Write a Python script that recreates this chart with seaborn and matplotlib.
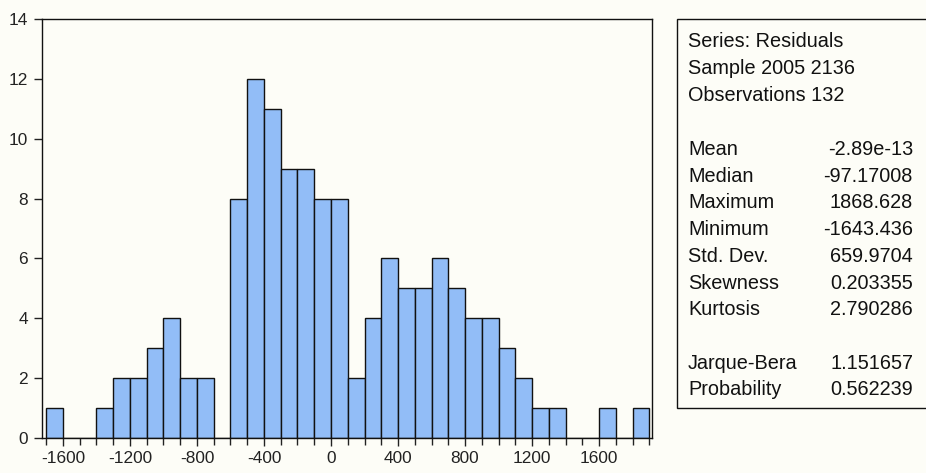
import numpy as np
import pandas as pd
import matplotlib
matplotlib.use("Agg")
import matplotlib.pyplot as plt
import seaborn as sns
from matplotlib.patches import Rectangle

# Data: histogram of residuals (bin width 100)
bin_edges = list(range(-1700, 2000, 100))
counts = [1, 0, 0, 1, 2, 2, 3, 4, 2, 2, 0, 8, 12, 11, 9, 9, 8, 8, 2, 4,
          6, 5, 5, 6, 5, 4, 4, 3, 2, 1, 1, 0, 0, 1, 0, 1]
x_ticks = [-1600, -1200, -800, -400, 0, 400, 800, 1200, 1600]
y_ticks = [0, 2, 4, 6, 8, 10, 12, 14]

header_lines = ["Series: Residuals", "Sample 2005 2136", "Observations 132"]
stat_names = ["Mean", "Median", "Maximum", "Minimum", "Std. Dev.", "Skewness", "Kurtosis"]
stat_values = ["-2.89e-13", "-97.17008", "1868.628", "-1643.436", "659.9704", "0.203355", "2.790286"]
test_names = ["Jarque-Bera", "Probability"]
test_values = ["1.151657", "0.562239"]

sns.set_style("white")
plt.rcParams['font.family'] = ['Liberation Sans', 'DejaVu Sans']

W, H = 926, 473
bg = "#fdfdf7"
fig = plt.figure(figsize=(W / 100, H / 100), dpi=100, facecolor=bg)
ax = fig.add_axes([42 / W, 1 - 438 / H, (652 - 42) / W, (438 - 19) / H])
ax.set_facecolor(bg)

centers = [(bin_edges[i] + bin_edges[i + 1]) / 2 for i in range(len(counts))]
df = pd.DataFrame({"x": centers, "w": counts})
sns.histplot(data=df, x="x", weights="w", bins=bin_edges, ax=ax,
             color="#92bdf7", alpha=1.0, edgecolor="#111111", linewidth=1.0)

ax.set_xlim(-1725, 1916)
ax.set_ylim(0, 14)
ax.set_xticks(x_ticks)
ax.set_xticklabels([str(v) for v in x_ticks])
ax.set_xticks(list(range(-1700, 2000, 100)), minor=True)
ax.set_yticks(y_ticks)
ax.set_xlabel("")
ax.set_ylabel("")
ax.tick_params(axis="both", which="major", direction="out", length=6, width=1,
               labelsize=12.4, colors="#222222", bottom=True, left=True)
ax.tick_params(axis="x", which="major", pad=3)
ax.tick_params(axis="y", which="major", pad=4)
ax.tick_params(axis="x", which="minor", direction="out", length=5, width=1,
               color="#222222", bottom=True)
for s in ax.spines.values():
    s.set_color("#111111")
    s.set_linewidth(1.0)
    s.set_visible(True)

# Statistics box
box = Rectangle((677 / W, 1 - 408 / H), (930 - 677) / W, (408 - 19) / H,
                transform=fig.transFigure, facecolor=bg, edgecolor="#111111",
                linewidth=1.0, zorder=1)
fig.patches.append(box)

fs = 14.3
lx = 688 / W
rx = 913 / W
for i, t in enumerate(header_lines):
    y = 47 + i * 27
    fig.text(lx, 1 - y / H, t, fontsize=fs, va="baseline", ha="left", color="#111111")
for i, (n, v) in enumerate(zip(stat_names, stat_values)):
    y = 155 + i * 26.7
    fig.text(lx, 1 - y / H, n, fontsize=fs, va="baseline", ha="left", color="#111111")
    fig.text(rx, 1 - y / H, v, fontsize=fs, va="baseline", ha="right", color="#111111")
for i, (n, v) in enumerate(zip(test_names, test_values)):
    y = 369 + i * 26
    fig.text(lx, 1 - y / H, n, fontsize=fs, va="baseline", ha="left", color="#111111")
    fig.text(rx, 1 - y / H, v, fontsize=fs, va="baseline", ha="right", color="#111111")

fig.savefig("out.png", dpi=100, facecolor=bg)
